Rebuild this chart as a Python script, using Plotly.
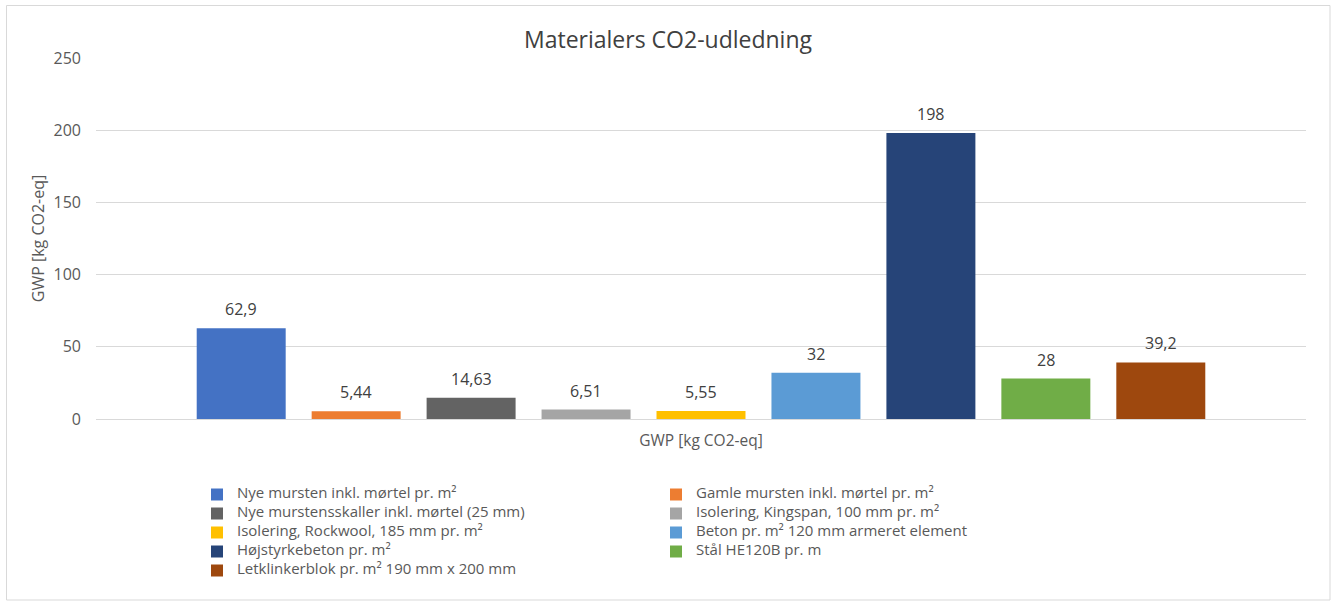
import plotly.graph_objects as go

# Chart data
category = ["GWP [kg CO2-eq]"]
materials = [
    "Nye mursten inkl. mørtel pr. m²",
    "Gamle mursten inkl. mørtel pr. m²",
    "Nye murstensskaller inkl. mørtel (25 mm)",
    "Isolering, Kingspan, 100 mm pr. m²",
    "Isolering, Rockwool, 185 mm pr. m²",
    "Beton pr. m² 120 mm armeret element",
    "Højstyrkebeton pr. m²",
    "Stål HE120B pr. m",
    "Letklinkerblok pr. m² 190 mm x 200 mm",
]
gwp_values = [62.9, 5.44, 14.63, 6.51, 5.55, 32, 198, 28, 39.2]
colors = ["#4472C4", "#ED7D31", "#636363", "#A5A5A5", "#FFC000",
          "#5B9BD5", "#264478", "#70AD47", "#9E480E"]
y_ticks = [0, 50, 100, 150, 200, 250]

FONT = "Open Sans"
TEXT_DARK = "#404040"
TEXT_GREY = "#595959"
GRID = "#D9D9D9"

BARGAP = 0.145
BARGROUPGAP = 0.226
LEGEND_TEXT_PX = 15


def fmt(v):
    return f"{v:g}".replace(".", ",")


fig = go.Figure()
for name, val, col in zip(materials, gwp_values, colors):
    fig.add_trace(go.Bar(
        # legend text set larger than the legend's base font keeps rows compact
        name=f'<span style="font-size:{LEGEND_TEXT_PX}px">{name}</span>',
        x=category,
        y=[val],
        marker=dict(color=col, line=dict(width=0)),
        hovertemplate="%{y}<extra>" + name + "</extra>",
    ))

# value labels above each bar, positioned on the grouped category slots
n = len(gwp_values)
group_w = 1 - BARGAP
slot = group_w / n
for i, val in enumerate(gwp_values):
    fig.add_annotation(
        x=-group_w / 2 + slot * (i + 0.5),
        y=val,
        xref="x", yref="y",
        text=fmt(val),
        showarrow=False,
        yanchor="bottom",
        yshift=6,
        font=dict(family=FONT, size=16, color=TEXT_DARK),
    )

fig.update_layout(
    width=1336, height=606,
    margin=dict(l=96, r=30, t=58, b=187, autoexpand=False),
    paper_bgcolor="white",
    plot_bgcolor="white",
    barmode="group",
    bargap=BARGAP,
    bargroupgap=BARGROUPGAP,
    title=dict(
        text="Materialers CO2-udledning",
        x=0.5, xanchor="center",
        y=1 - 40 / 606, yanchor="middle",
        font=dict(family=FONT, size=23, color=TEXT_DARK),
    ),
    font=dict(family=FONT, color=TEXT_GREY),
    xaxis=dict(
        type="category",
        showgrid=False,
        showline=False,
        ticks="",
        tickfont=dict(family=FONT, size=15.5, color=TEXT_GREY),
        ticklabelstandoff=10,
    ),
    yaxis=dict(
        range=[0, 250],
        tickvals=y_ticks,
        showgrid=True,
        gridcolor=GRID,
        gridwidth=1,
        zeroline=True,
        zerolinecolor=GRID,
        zerolinewidth=1,
        showline=False,
        ticks="",
        ticklabelstandoff=14,
        tickfont=dict(family=FONT, size=16, color=TEXT_GREY),
        title=dict(
            text="GWP [kg CO2-eq]",
            font=dict(family=FONT, size=16, color=TEXT_GREY),
            standoff=4,
        ),
    ),
    legend=dict(
        orientation="h",
        x=(197 - 96) / 1210, xanchor="left",
        y=-(480 - 419) / 361, yanchor="top",
        entrywidth=414, entrywidthmode="pixels",
        font=dict(family=FONT, size=10, color=TEXT_GREY),
        traceorder="normal",
        itemwidth=30,
        tracegroupgap=0,
    ),
    shapes=[dict(
        type="rect", xref="paper", yref="paper",
        x0=(6.5 - 96) / 1210, x1=(1330 - 96) / 1210,
        y0=(419 - 600) / 361, y1=(419 - 5.5) / 361,
        line=dict(color=GRID, width=1),
        fillcolor="rgba(0,0,0,0)",
        layer="below",
    )],
)

fig.write_html("out.html")
